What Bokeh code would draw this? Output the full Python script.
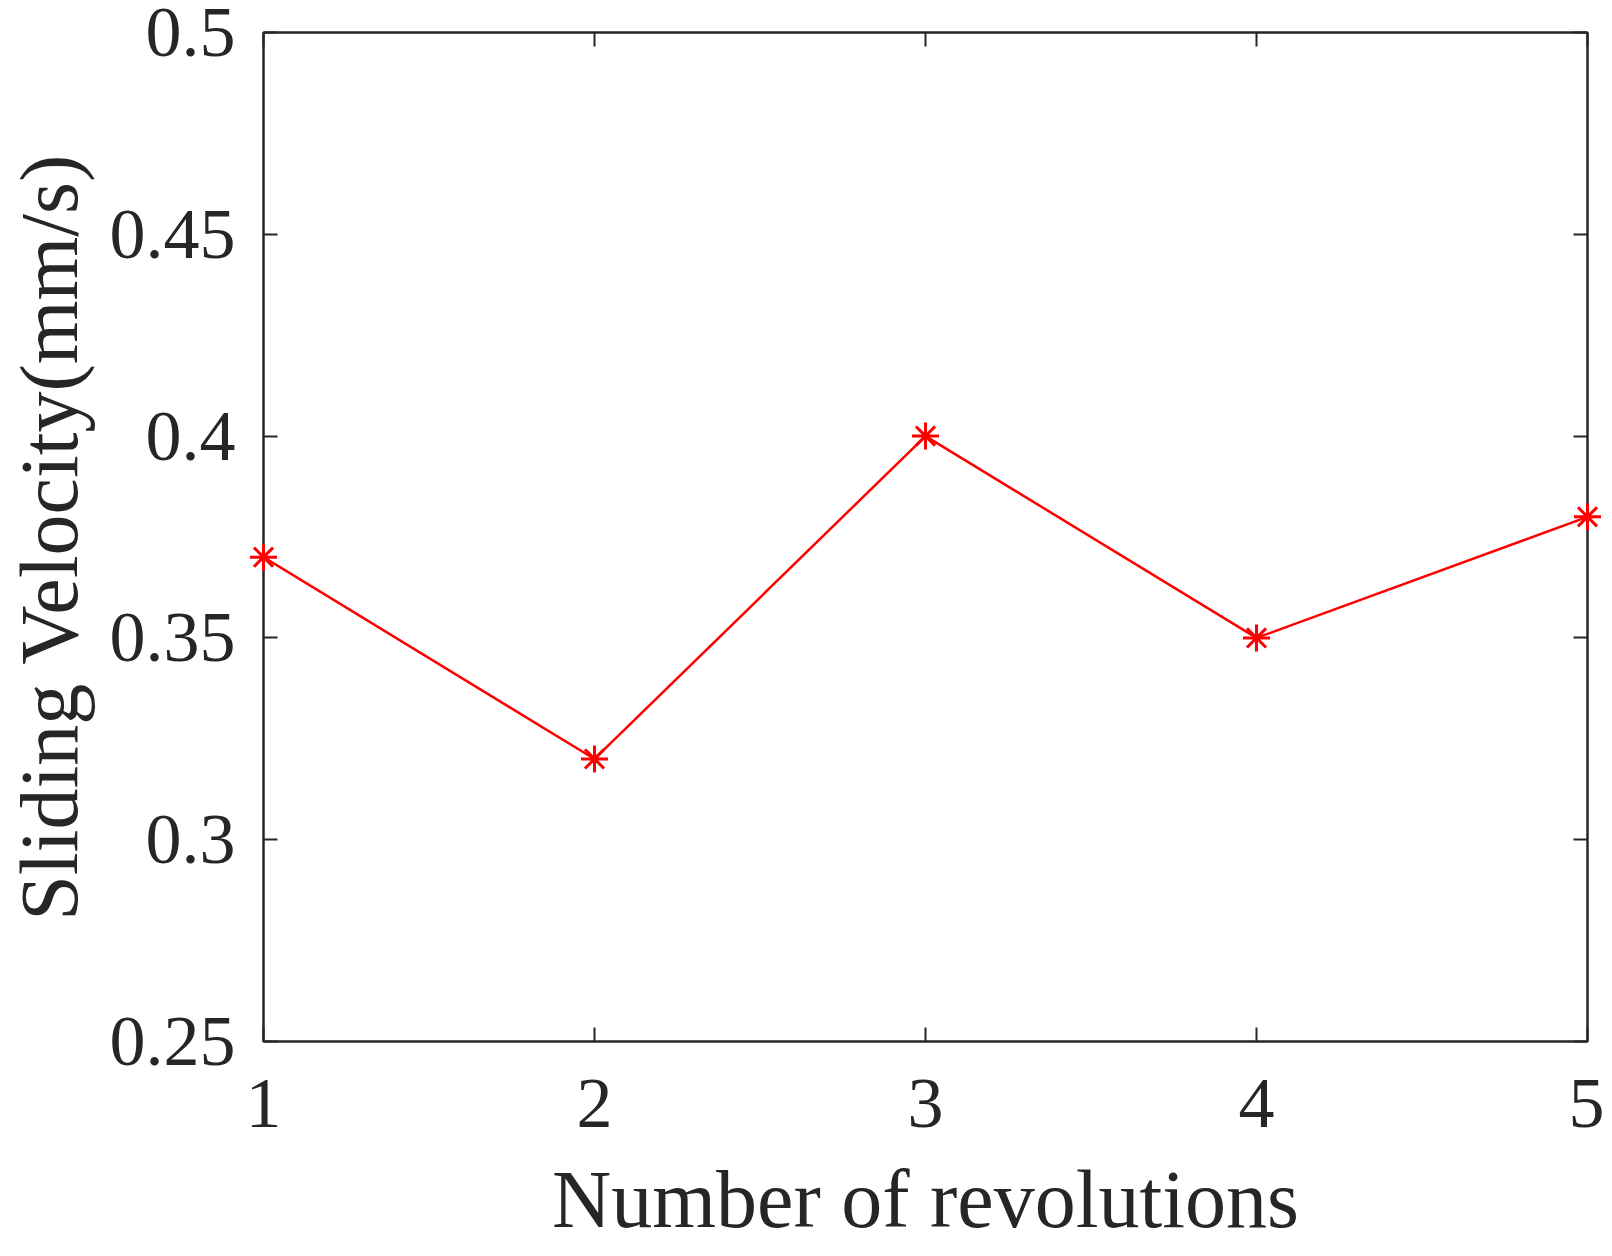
from bokeh.plotting import figure
from bokeh.models import LinearAxis, FixedTicker, Range1d
from bokeh.embed import file_html
from bokeh.resources import INLINE

revolutions = [1, 2, 3, 4, 5]
velocity = [0.37, 0.32, 0.40, 0.35, 0.38]
x_ticks = [1, 2, 3, 4, 5]
y_ticks = [0.25, 0.3, 0.35, 0.4, 0.45, 0.5]
y_tick_labels = ["0.25", "0.3", "0.35", "0.4", "0.45", "0.5"]
x_label = "Number of revolutions"
y_label = "Sliding Velocity(mm/s)"

FONT = "Liberation Serif"
TXT = "#262626"

p = figure(width=1604, height=1248, output_backend="svg", toolbar_location=None,
           x_range=Range1d(1, 5), y_range=Range1d(0.25, 0.5),
           x_axis_location=None, y_axis_location=None,
           min_border_left=262, min_border_top=32, min_border_right=17, min_border_bottom=207)
p.grid.visible = False
p.outline_line_color = TXT
p.outline_line_width = 2
p.background_fill_color = "white"
p.border_fill_color = "white"

def style(ax, labels=True):
    ax.axis_line_color = TXT
    ax.axis_line_width = 2
    ax.major_tick_line_color = TXT
    ax.major_tick_line_width = 2
    ax.major_tick_in = 14
    ax.major_tick_out = 0
    ax.minor_tick_line_color = None
    if labels:
        ax.major_label_text_font = FONT
        ax.major_label_text_font_size = "72px"
        ax.major_label_text_color = TXT
        ax.axis_label_text_font = FONT
        ax.axis_label_text_font_size = "82px"
        ax.axis_label_text_font_style = "normal"
        ax.axis_label_text_color = TXT
    else:
        ax.major_label_text_font_size = "11px"
        ax.major_label_standoff = 0

xb = LinearAxis(ticker=FixedTicker(ticks=x_ticks), axis_label=x_label)
style(xb)
xb.major_label_standoff = 38
xb.axis_label_standoff = 24
p.add_layout(xb, "below")

yl = LinearAxis(ticker=FixedTicker(ticks=y_ticks), axis_label=y_label)
style(yl)
yl.major_label_overrides = {t: s for t, s in zip(y_ticks, y_tick_labels)}
yl.major_label_standoff = 28
yl.axis_label_standoff = 12
p.add_layout(yl, "left")

xt = LinearAxis(ticker=FixedTicker(ticks=x_ticks))
style(xt, labels=False)
xt.major_label_overrides = {t: "" for t in x_ticks}
p.add_layout(xt, "above")

yr = LinearAxis(ticker=FixedTicker(ticks=y_ticks))
style(yr, labels=False)
yr.major_label_overrides = {t: "" for t in y_ticks}
p.add_layout(yr, "right")

p.line(revolutions, velocity, line_color="#ff0000", line_width=2.5)
p.scatter(revolutions, velocity, marker="asterisk", size=27, line_color="#ff0000",
          line_width=3, level="overlay")

open("out.html", "w").write(file_html(p, INLINE))
